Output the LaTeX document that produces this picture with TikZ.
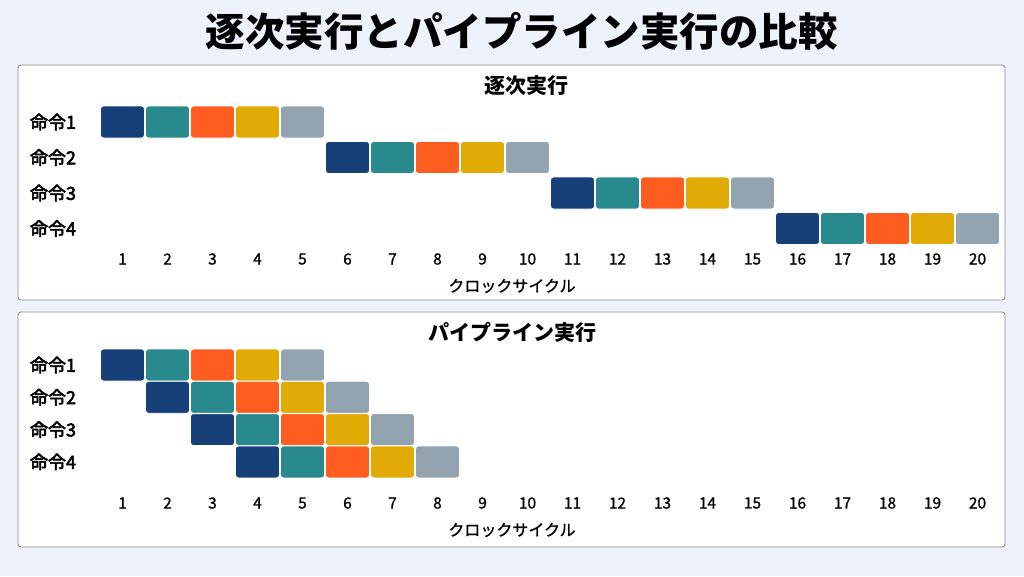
\documentclass[tikz,border=0pt]{standalone}
\usepackage{fontspec}
\setmainfont{Noto Sans CJK JP}
\newfontfamily\labelfont[FakeBold=3]{Noto Sans CJK JP}
\newfontfamily\tickfont[FakeBold=1]{Noto Sans CJK JP}
\usetikzlibrary{positioning}
\definecolor{pagebg}{HTML}{EEF3FB}
\definecolor{framegray}{HTML}{8C8C8C}
\definecolor{navy}{HTML}{173F78}
\definecolor{teal}{HTML}{288A8C}
\definecolor{orange}{HTML}{FF5C20}
\definecolor{gold}{HTML}{E2AA04}
\definecolor{slate}{HTML}{94A3B0}
\tikzset{
  panel/.style={draw=framegray, fill=white, line width=0.9pt, rounded corners=3pt},
  stage/.style={draw=white, line width=0.8pt, rounded corners=3pt, minimum width=44pt, minimum height=32pt, inner sep=0pt},
  rowlabel/.style={font=\fontsize{18}{21}\labelfont, inner sep=0pt},
  tick/.style={font=\fontsize{15.5}{18}\tickfont, inner sep=0pt},
  heading/.style={font=\fontsize{21}{24}\selectfont\bfseries, inner sep=0pt},
  axislabel/.style={font=\fontsize{16}{19}\tickfont, inner sep=0pt}
}
\begin{document}
\begin{tikzpicture}[x=1pt, y=-1pt]
  \fill[pagebg] (0,0) rectangle (1024,576);
  \node[font=\fontsize{39.5}{44}\selectfont\bfseries, inner sep=0pt] (title) at (521.5,31) {逐次実行とパイプライン実行の比較};
  \draw[panel] (18,65) rectangle (1005,300);
  \draw[panel] (18,312) rectangle (1005,547);
  % sequential
  \node[heading] (seqhead) at (526,86) {逐次実行};
  \foreach \r in {1,...,4} {
    \node[rowlabel] (sl\r) at (53,{122+35.5*(\r-1)}) {命令\r};
    \foreach \c [count=\k from 0] in {navy,teal,orange,gold,slate}
      \node[stage, fill=\c] (s\r\k) at ({122.5+45*(5*(\r-1)+\k)},{122+35.5*(\r-1)}) {};
  }
  \foreach \n in {1,...,20}
    \node[tick] (sn\n) at ({122.5+45*(\n-1)},259) {\n};
  \node[axislabel] (saxis) at (512,286) {クロックサイクル};
  % pipeline
  \node[heading] (pipehead) at (512,332) {パイプライン実行};
  \foreach \r in {1,...,4} {
    \node[rowlabel] (pl\r) at (53,{365+32.3*(\r-1)}) {命令\r};
    \foreach \c [count=\k from 0] in {navy,teal,orange,gold,slate}
      \node[stage, fill=\c] (p\r\k) at ({122.5+45*(\r-1+\k)},{365+32.3*(\r-1)}) {};
  }
  \foreach \n in {1,...,20}
    \node[tick] (pn\n) at ({122.5+45*(\n-1)},503) {\n};
  \node[axislabel] (paxis) at (512,530) {クロックサイクル};
\end{tikzpicture}
\end{document}
